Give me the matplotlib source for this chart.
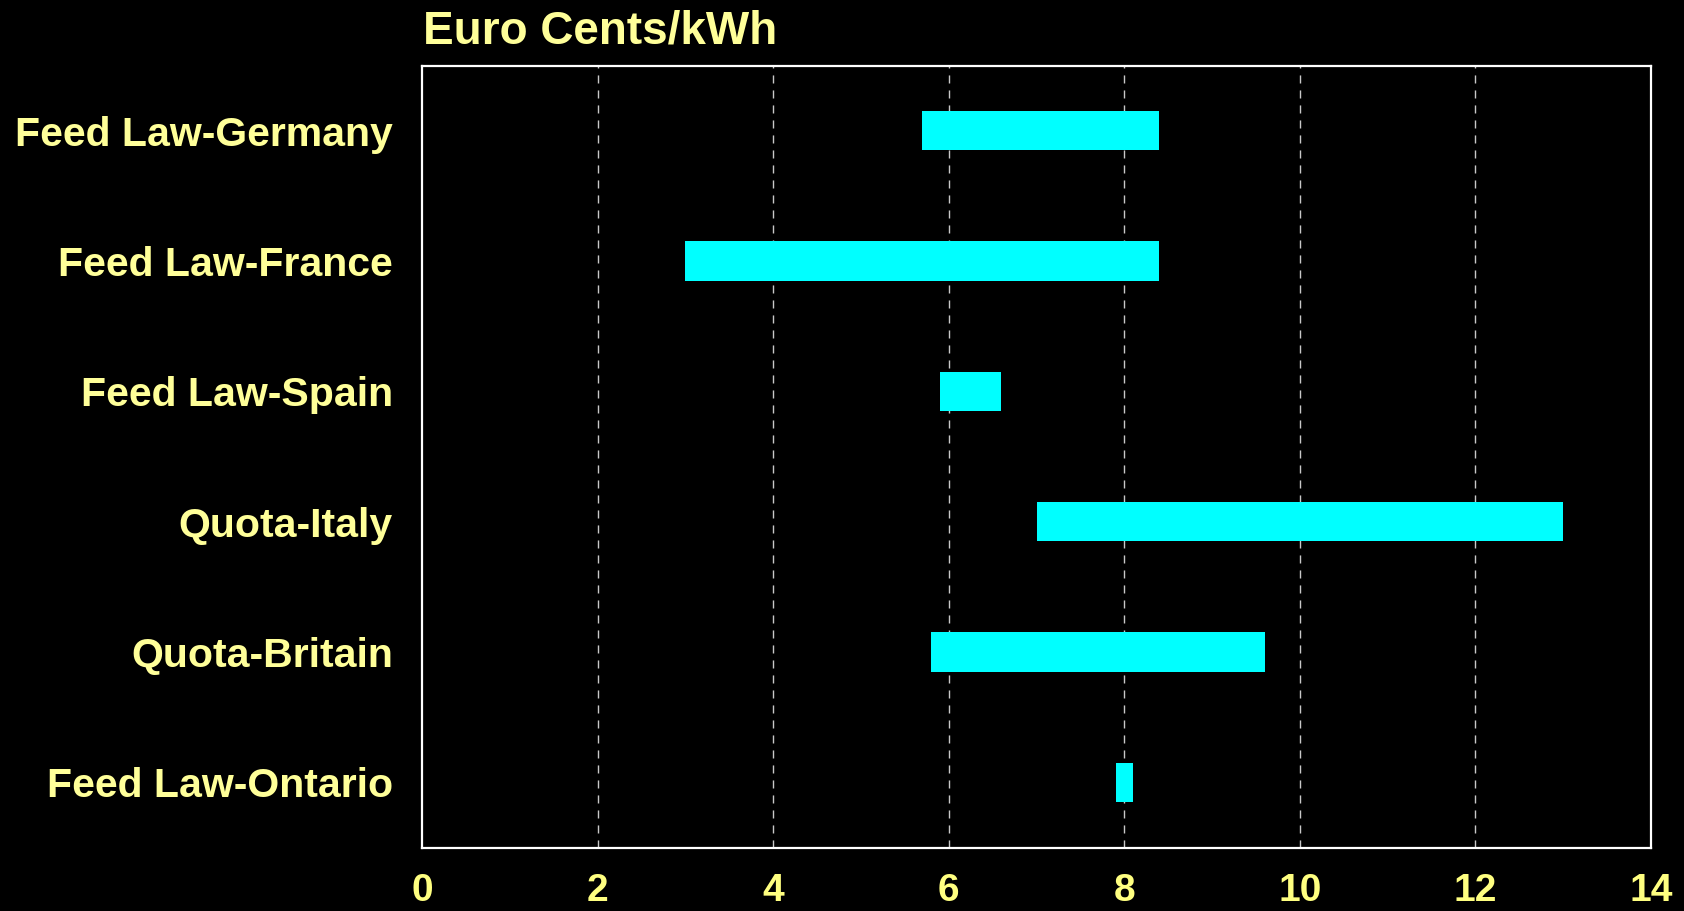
import matplotlib
matplotlib.use("Agg")
import matplotlib.pyplot as plt

categories = ["Feed Law-Germany", "Feed Law-France", "Feed Law-Spain",
              "Quota-Italy", "Quota-Britain", "Feed Law-Ontario"]
low_values = [5.7, 3.0, 5.9, 7.0, 5.8, 7.9]
high_values = [8.4, 8.4, 6.6, 13.0, 9.6, 8.1]
x_ticks = [0, 2, 4, 6, 8, 10, 12, 14]
title_text = "Euro Cents/kWh"

plt.rcParams['font.family'] = ['Liberation Sans', 'DejaVu Sans']

fig = plt.figure(figsize=(16.84, 9.11), dpi=100, facecolor='black')
ax = fig.add_axes([0.2506, 0.0697, 0.7298, 0.8584], facecolor='black')

ypos = list(range(len(categories)))
widths = [h - l for l, h in zip(low_values, high_values)]
ax.barh(ypos, widths, left=low_values, height=0.3, color='#00FFFF', zorder=3)

ax.set_xlim(0, 14)
ax.set_ylim(len(categories) - 0.5, -0.5)
ax.set_xticks(x_ticks)
ax.set_xticklabels([str(t) for t in x_ticks])
ax.set_yticks(ypos)
ax.set_yticklabels(categories)

for t in x_ticks[1:-1]:
    ax.axvline(t, color='#c8c8c8', lw=1.0, linestyle=(0, (5.8, 5.0)), zorder=1)

for s in ax.spines.values():
    s.set_color('white')
    s.set_linewidth(1.6)

ax.tick_params(axis='x', length=0, pad=18, labelsize=28, labelcolor='#FFFF80')
ax.tick_params(axis='y', length=0, pad=21, labelsize=29.5, labelcolor='#FFFF99')
for lbl in ax.get_xticklabels() + ax.get_yticklabels():
    lbl.set_fontweight('bold')

fig.text(0.2512, 1 - 44 / 911, title_text, color='#FFFF99', fontsize=33,
         fontweight='bold', ha='left', va='baseline')

fig.savefig("out.png", dpi=100, facecolor='black')
